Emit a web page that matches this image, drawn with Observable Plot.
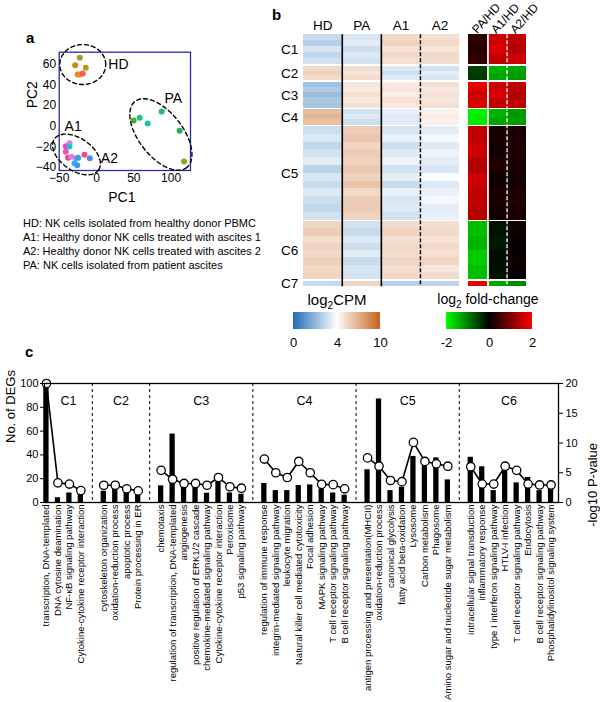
<!DOCTYPE html>
<html><head><meta charset="utf-8">
<script src="https://cdn.jsdelivr.net/npm/d3@7"></script>
<script src="https://cdn.jsdelivr.net/npm/@observablehq/plot@0.6"></script>
<style>
body{margin:0;background:#fff;}
#fig{position:relative;width:600px;height:702px;font-family:"Liberation Sans",Arial,sans-serif;color:#000;overflow:hidden;background:#fff;}
.abs{position:absolute;}
.abs svg{overflow:visible;display:block;}
.lbl{position:absolute;white-space:nowrap;line-height:1;}
.lg line{stroke:none;}
</style></head><body><div id="fig"></div>
<script>
// ---------------- DATA ----------------
// Panel a: PCA
const pcaSample = ["HD1","HD2","HD3","HD4","HD5","HD6","A1","A2","A3","A4","A5","A6","A7","A8","A9","A10","A11","A12","PA1","PA2","PA3","PA4","PA5","PA6"];
const pc1 = [-22.4,-28.6,-14.4,-25.1,-22.4,-18.4,-41.2,-36.2,-36.2,-41.2,-38,-33.5,-26.8,-24.6,-16.1,-9.0,-29.5,-25.9,49.9,57.9,68.6,87.3,111.4,117.3];
const pc2 = [66.1,58.9,56.4,50,50,50.9,-19.3,-16.4,-19.6,-24.7,-30.5,-29.6,-30.9,-30.5,-27.6,-30.9,-35.7,-37.7,5.5,8.1,2.6,14.2,-4.5,-34.1];
const pcaColors = ["#a0a020","#c88a18","#b8980e","#e8861c","#f08a30","#f0605a","#f040d0","#c888f0","#20c0d0","#f050b0","#f04868","#d080f0","#b480f0","#30a8d0","#f04890","#4a88f0","#38a8f0","#30a0f0","#40b030","#20c090","#20c0a8","#20c070","#20b050","#88a820"];
const ellName = ["HD","A","PA"];
const ellC1 = [-18.4,-26.8,86.3], ellC2 = [59.6,-27.3,-8.0];
const ellU1 = [30.8,29.6,34.6], ellU2 = [0,-15.0,-32.0];
const ellV1 = [0,-12.3,-23.2], ellV2 = [19.3,-12.7,-13.1];
const pcaLabText = ["HD","PA","A1","A2"];
const pcaLabPC1 = [29.4,103,-31.3,17.3], pcaLabPC2 = [59.6,26.7,-0.3,-31.5];
const legendLines = ["HD: NK cells isolated from healthy donor PBMC","A1: Healthy donor NK cells treated with ascites 1","A2: Healthy donor NK cells treated with ascites 2","PA: NK cells isolated from patient ascites"];

// Panel b: heatmaps
const sampleGroups = ["HD","PA","A1","A2"];
const fcNames = ["PA/HD","A1/HD","A2/HD"];
const clusterNames = ["C1","C2","C3","C4","C5","C6","C7"];
const clusterSize = [30,14.5,26,15.3,93.5,58,5.8];
const hmC1 = [[3.0,3.3,5.4,5.2],[2.7,3.5,5.7,5.5],[3.3,3.1,5.1,5.0],[2.9,3.4,5.5,5.4],[3.2,3.2,5.2,5.3]];
const hmC2 = [[5.5,5.3,3.4,3.2],[5.8,5.0,3.1,3.5],[5.4,5.3,3.4,3.3]];
const hmC3 = [[2.3,5.0,4.8,5.2],[2.6,4.8,5.0,4.9],[2.2,5.2,4.7,5.1],[2.5,4.9,5.1,5.0],[2.4,5.1,4.9,5.2]];
const hmC4 = [[6.5,3.2,3.6,4.5],[6.8,3.4,3.4,4.7],[6.4,3.1,3.5,4.6]];
const hmC5 = [[3.1,5.9,3.3,3.5],[3.4,6.2,3.6,3.8],[2.9,5.6,3.1,3.4],[3.2,6.0,3.4,3.7],[3.5,5.7,3.7,3.5],[2.8,6.1,3.2,3.3],[3.3,5.8,3.5,3.9],[3.0,6.3,3.0,3.4],[3.4,5.5,3.6,3.6],[3.1,5.9,3.3,3.8],[2.9,6.0,3.4,3.5],[3.2,5.7,3.2,3.6]];
const hmC6 = [[5.6,3.2,5.4,5.3],[5.9,3.0,5.7,5.5],[5.3,3.4,5.2,5.1],[5.7,3.1,5.5,5.4],[5.4,3.5,5.3,5.2],[5.8,3.0,5.6,5.6],[5.5,3.3,5.3,5.0],[5.6,3.2,5.5,5.4]];
const hmC7 = [[3.0,5.6,2.7,2.8]];
const fcC1 = [[0.35,1.6,1.5],[0.3,1.7,1.4],[0.4,1.5,1.6]];
const fcC2 = [[-0.5,-1.4,-1.3],[-0.45,-1.3,-1.2]];
const fcC3 = [[1.8,1.6,1.5],[1.6,1.7,1.4],[1.7,1.5,1.5]];
const fcC4 = [[-1.9,-1.4,-1.2],[-1.85,-1.3,-1.25]];
const fcC5 = [[1.5,0.2,0.2],[1.6,0.15,0.25],[1.4,0.25,0.2],[1.6,0.1,0.15],[1.5,0.2,0.25],[1.45,0.15,0.2]];
const fcC6 = [[-1.5,-0.15,0.1],[-1.4,-0.2,0.05],[-1.6,-0.1,0.1],[-1.5,-0.15,0.05]];
const fcC7 = [[1.8,-1.3,-1.1]];
const cpmTicks = [0,4,10];
const fcTicks = [-2,0,2];

// Panel c: GO / KEGG enrichment
const goGroups = ["C1","C2","C3","C4","C5","C6"];
const goTerms = [
 ["transcription, DNA-templated","DNA cytosine deamination","NF-κB signaling pathway","Cytokine-cytokine receptor interaction"],
 ["cytoskeleton organization","oxidation-reduction process","apoptotic process","Protein processing in ER"],
 ["chemotaxis","regulation of transcription, DNA-templated","angiogenesis","positive regulation of ERK1/2 cascade","chemokine-mediated signaling pathway","Cytokine-cytokine receptor interaction","Peroxisome","p53 signaling pathway"],
 ["regulation of immune response","integrin-mediated signaling pathway","leukocyte migration","Natural killer cell mediated cytotoxicity","Focal adhesion","MAPK signaling pathway","T cell receptor signaling pathway","B cell receptor signaling pathway"],
 ["antigen processing and presentation(MHCII)","oxidation-reduction process","canonical glycolysis","fatty acid beta-oxidation","Lysosome","Carbon metabolism","Phagosome","Amino sugar and nucleotide sugar metabolism"],
 ["intracellular signal transduction","inflammatory response","type I interferon signaling pathway","HTLV-I infection","T cell receptor signaling pathway","Endocytosis","B cell receptor signaling pathway","Phosphatidylinositol signaling system"]
];
const goDEGs = [
 [100,4,8,7.3],
 [9.5,11,9,8.5],
 [14,57.5,13,13,7.8,17.5,8,7],
 [16,10,10,14.3,14.8,11.5,8,6.2],
 [27.5,87,10,12.9,38.7,34,37.5,19],
 [38,30,10,27,16.5,21,10,12.3]
];
const goLogP = [
 [20,3.3,3.1,2.0],
 [2.9,2.9,2.3,1.95],
 [5.4,3.9,3.2,3.2,2.9,4.2,2.65,2.4],
 [7.3,5.0,4.2,6.9,5.0,3.05,3.0,2.3],
 [7.5,6.1,3.7,3.5,10.1,6.9,6.5,6.1],
 [6.0,3.1,3.1,6.1,5.4,3.1,2.95,2.95]
];
const degTicks = [0,20,40,60,80,100];
const pTicks = [0,5,10,15,20];

// ---------------- HELPERS ----------------
const FONT = '"Liberation Sans", Arial, sans-serif';
const base = {fontFamily: FONT, fontSize: "11px", background: "transparent", color: "black", overflow: "visible"};
const fig = document.getElementById("fig");
function place(node, left, top, cls) {
  const d = document.createElement("div");
  d.className = "abs" + (cls ? " " + cls : "");
  d.style.left = left + "px"; d.style.top = top + "px";
  d.appendChild(node); fig.appendChild(d); return d;
}
function label(html, x, y, size, opts = {}) {
  const d = document.createElement("div");
  d.className = "lbl"; d.innerHTML = html;
  d.style.left = x + "px"; d.style.top = y + "px"; d.style.fontSize = size + "px";
  if (opts.bold) d.style.fontWeight = "bold";
  d.style.transform = opts.center ? "translate(-50%,-50%)" : "translate(0,-50%)";
  fig.appendChild(d);
}

// ---------------- PANEL a ----------------
const pca = pcaSample.map((s, i) => ({s, x: pc1[i], y: pc2[i]}));
const ellPts = [];
ellName.forEach((n, k) => {
  for (let j = 0; j <= 96; j++) {
    const t = 2 * Math.PI * j / 96;
    ellPts.push({n, x: ellC1[k] + ellU1[k] * Math.cos(t) + ellV1[k] * Math.sin(t),
                    y: ellC2[k] + ellU2[k] * Math.cos(t) + ellV2[k] * Math.sin(t)});
  }
});
const pcaLabs = pcaLabText.map((t, i) => ({t, x: pcaLabPC1[i], y: pcaLabPC2[i]}));
const plotA = Plot.plot({
  width: 200, height: 210, marginLeft: 58.7, marginRight: 10, marginTop: 51.7, marginBottom: 40,
  x: {domain: [-50, 126]}, y: {domain: [-42.8, 71.5]},
  color: {type: "ordinal", domain: pcaSample, range: pcaColors},
  style: base,
  marks: [
    Plot.frame({stroke: "#2b2ba6", strokeWidth: 1.3}),
    Plot.axisX({ticks: [-50, 0, 50, 100], tickSize: 0, tickPadding: 3, fontSize: 12, label: null}),
    Plot.axisY({ticks: [-40, -20, 0, 20, 40, 60], tickSize: 0, tickPadding: 3, fontSize: 12, label: null}),
    Plot.text(["PC1"], {frameAnchor: "bottom", dy: 31, dx: -3, fontSize: 14}),
    Plot.text(["PC2"], {frameAnchor: "left", dx: -27, dy: -3, rotate: -90, fontSize: 14}),
    Plot.dot(pca, {x: "x", y: "y", fill: "s", r: 3}),
    Plot.line(ellPts, {x: "x", y: "y", z: "n", stroke: "black", strokeWidth: 1.4, strokeDasharray: "4,3"}),
    Plot.text(pcaLabs, {x: "x", y: "y", text: "t", fontSize: 14})
  ]
});
place(plotA, 0, 0);
label("a", 26, 37, 15, {bold: true});
legendLines.forEach((t, i) => label(t, 23, 223 + i * 14, 11));

// ---------------- PANEL b ----------------
const gap = 1.5;
let acc = 0;
const clusters = clusterNames.map((c, i) => {
  const y1 = acc; acc += clusterSize[i] + gap;
  return {c, y1, y2: y1 + clusterSize[i], mid: y1 + clusterSize[i] / 2};
});
const totalY = acc - gap;
const hmAll = [hmC1, hmC2, hmC3, hmC4, hmC5, hmC6, hmC7];
const fcAll = [fcC1, fcC2, fcC3, fcC4, fcC5, fcC6, fcC7];
function cells(all) {
  const out = [];
  all.forEach((rows, ci) => {
    const cl = clusters[ci], h = (cl.y2 - cl.y1) / rows.length;
    rows.forEach((row, r) => row.forEach((v, g) => out.push({x1: g, x2: g + 1, y1: cl.y1 + r * h, y2: cl.y1 + (r + 1) * h, v})));
  });
  return out;
}
const cpmColor = {type: "linear", domain: cpmTicks, range: ["#1f6db5", "#ffffff", "#c8621e"]};
const fcColor = {type: "linear", domain: fcTicks, range: ["#00ff00", "#000000", "#ff0000"]};
const plotB1 = Plot.plot({
  width: 210, height: 300, marginLeft: 42.7, marginRight: 11, marginTop: 34.3, marginBottom: 13.7,
  x: {domain: [0, 4], axis: null}, y: {domain: [0, totalY], reverse: true, axis: null},
  color: cpmColor, style: base,
  marks: [
    Plot.rect(cells(hmAll), {x1: "x1", x2: "x2", y1: "y1", y2: "y2", fill: "v", shapeRendering: "crispEdges"}),
    Plot.ruleX([1, 2], {stroke: "black", strokeWidth: 1.6}),
    Plot.ruleX([3], {stroke: "black", strokeWidth: 1.4, strokeDasharray: "4,2"}),
    Plot.text(clusters, {x: 0, y: "mid", text: "c", dx: -5, textAnchor: "end", fontSize: 13.5}),
    Plot.text(sampleGroups, {x: (d, i) => i + 0.5, y: 0, dy: -9, text: d => d, fontSize: 13.5})
  ]
});
place(plotB1, 260, 0);
const plotB2 = Plot.plot({
  width: 140, height: 300, marginLeft: 8.3, marginRight: 74.3, marginTop: 34.3, marginBottom: 13.7,
  x: {domain: [0, 3], axis: null}, y: {domain: [0, totalY], reverse: true, axis: null},
  color: fcColor, style: base,
  marks: [
    Plot.rect(cells(fcAll), {x1: "x1", x2: "x2", y1: "y1", y2: "y2", fill: "v", shapeRendering: "crispEdges"}),
    Plot.ruleX([1], {stroke: "white", strokeWidth: 1.8}),
    Plot.ruleX([2], {stroke: "white", strokeWidth: 1.3, strokeDasharray: "4,2"}),
    Plot.text(fcNames, {x: (d, i) => i + 0.5, y: 0, dy: -3, dx: -4, text: d => d, rotate: -48, textAnchor: "start", fontSize: 12})
  ]
});
place(plotB2, 460, 0);
label("b", 272, 14, 15, {bold: true});
label("log<sub style='font-size:10px'>2</sub>CPM", 337, 301, 15, {center: true});
label("log<sub style='font-size:10px'>2</sub> fold-change", 488, 301, 14, {center: true});
const lg1 = Plot.legend({color: cpmColor, width: 107, height: 37, marginTop: 0, marginBottom: 20, marginLeft: 10, marginRight: 10, ticks: cpmTicks, tickSize: 6, label: null, style: {...base, fontSize: "13px"}});
place(lg1, 283.3, 312.3, "lg");
const lg2 = Plot.legend({color: fcColor, width: 106, height: 37, marginTop: 0, marginBottom: 20, marginLeft: 10, marginRight: 10, ticks: fcTicks, tickSize: 6, label: null, tickFormat: d => (d < 0 ? "-" + Math.abs(d) : String(d)), style: {...base, fontSize: "13px"}});
place(lg2, 435.7, 312.3, "lg");

// ---------------- PANEL c ----------------
const go = [];
const seps = [];
const groupMid = [];
let start = 0;
goGroups.forEach((g, gi) => {
  if (gi > 0) seps.push(start - 1);
  goTerms[gi].forEach((t, j) => go.push({g, t, pos: start + j, degs: goDEGs[gi][j], p: goLogP[gi][j]}));
  groupMid.push({g, lo: gi === 0 ? -0.17 : start - 1, hi: start + goTerms[gi].length});
  start += goTerms[gi].length + 1;
});
const xMax = 44.65;
groupMid[groupMid.length - 1].hi = xMax;
const termByPos = new Map(go.map(d => [d.pos, d.t]));
const plotC = Plot.plot({
  width: 600, height: 342, marginLeft: 44, marginRight: 42, marginTop: 23, marginBottom: 200,
  x: {domain: [-0.17, xMax]}, y: {domain: [0, 100]},
  style: base,
  marks: [
    Plot.ruleX(seps, {stroke: "black", strokeWidth: 1, strokeDasharray: "3,3"}),
    Plot.rect(go, {x1: d => d.pos - 0.23, x2: d => d.pos + 0.23, y1: 0, y2: "degs", fill: "black"}),
    Plot.line(go, {x: "pos", y: d => d.p * 5, z: "g", stroke: "black", strokeWidth: 1.6}),
    Plot.dot(go, {x: "pos", y: d => d.p * 5, r: 4.2, fill: "white", stroke: "black", strokeWidth: 1.3}),
    Plot.text(groupMid, {x: d => (d.lo + d.hi) / 2, y: 85, text: "g", fontSize: 12.5}),
    Plot.frame({stroke: "black", strokeWidth: 1.3}),
    Plot.axisY({ticks: degTicks, tickSize: 4, tickPadding: 2, fontSize: 11, label: null}),
    Plot.axisY({anchor: "right", ticks: pTicks.map(v => v * 5), tickFormat: d => d / 5, tickSize: 4, tickPadding: 3, fontSize: 11, label: null}),
    Plot.axisX({ticks: go.map(d => d.pos), tickFormat: p => termByPos.get(p), tickRotate: -90, tickSize: 0, tickPadding: 2, fontSize: 9.5, label: null}),
    Plot.text(["No. of DEGs"], {frameAnchor: "left", dx: -34, rotate: -90, fontSize: 13}),
    Plot.text(["-log10 P-value"], {frameAnchor: "right", dx: 34, rotate: -90, fontSize: 13})
  ]
});
place(plotC, 0, 360);
label("c", 25, 351, 15, {bold: true});
</script></body></html>
